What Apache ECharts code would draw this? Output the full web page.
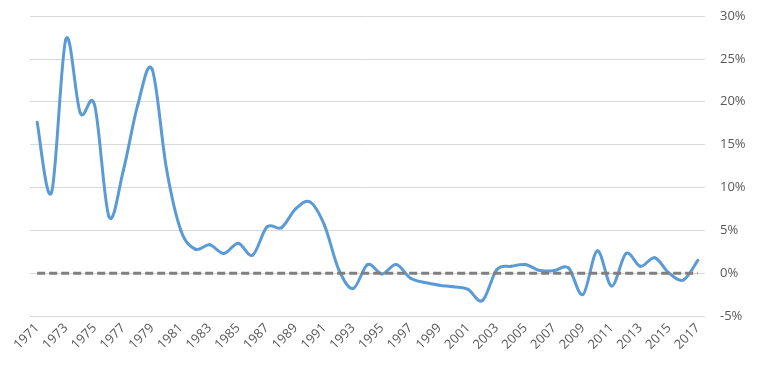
<!DOCTYPE html>
<html><head><meta charset="utf-8">
<script src="https://cdn.jsdelivr.net/npm/echarts@6/dist/echarts.min.js"></script>
<style>html,body{margin:0;padding:0;background:#fff}#c{width:762px;height:381px}</style>
</head><body><div id="c"></div>
<script>
var years = [];
for (var y = 1971; y <= 2017; y++) years.push(String(y));
var growth = [17.6, 9.4, 27.3, 18.7, 19.6, 6.6, 12.0, 19.6, 23.8, 12.2, 5.0, 2.8, 3.3, 2.3, 3.5,
  2.1, 5.4, 5.3, 7.5, 8.3, 5.6, 0.4, -1.8, 1.0, -0.1, 1.0, -0.6, -1.1, -1.4, -1.6, -1.9, -3.2,
  0.4, 0.8, 1.0, 0.3, 0.3, 0.6, -2.5, 2.6, -1.5, 2.3, 0.8, 1.8, 0.0, -0.8, 1.5];
var zeroLine = years.map(function(){ return 0; });
var yMin = -5, yMax = 30, yStep = 5;

var chart = echarts.init(document.getElementById('c'));

function renderSmooth(params, api) {
  var i = params.dataIndex;
  var n = growth.length;
  if (i >= n - 1) return null;
  function pt(k) {
    k = Math.max(0, Math.min(n - 1, k));
    return api.coord([k, growth[k]]);
  }
  var p0 = pt(i - 1), p1 = pt(i), p2 = pt(i + 1), p3 = pt(i + 2);
  var t = 1 / 6;
  return {
    type: 'bezierCurve',
    shape: {
      x1: p1[0], y1: p1[1],
      cpx1: p1[0] + (p2[0] - p0[0]) * t, cpy1: p1[1] + (p2[1] - p0[1]) * t,
      cpx2: p2[0] - (p3[0] - p1[0]) * t, cpy2: p2[1] - (p3[1] - p1[1]) * t,
      x2: p2[0], y2: p2[1]
    },
    style: {stroke: '#5B9BD5', lineWidth: 3, fill: null, lineCap: 'round', lineJoin: 'round'}
  };
}

chart.setOption({
  animation: false,
  grid: {left: 30, right: 57, top: 16, bottom: 65, containLabel: false},
  xAxis: {
    type: 'category', data: years, boundaryGap: true,
    axisLine: {show: false}, axisTick: {show: false},
    axisLabel: {interval: 1, rotate: 45, margin: 10, color: '#595959', fontSize: 13, fontFamily: 'Open Sans'}
  },
  yAxis: {
    type: 'value', position: 'right', min: yMin, max: yMax, interval: yStep,
    axisLine: {show: false}, axisTick: {show: false},
    axisLabel: {formatter: '{value}%', margin: 15, color: '#595959', fontSize: 13, fontFamily: 'Open Sans'},
    splitLine: {lineStyle: {color: '#d9d9d9', width: 1}}
  },
  series: [
    {type: 'custom', data: growth.map(function(v, k){ return [k, v]; }),
     encode: {x: 0, y: 1}, renderItem: renderSmooth, clip: false},
    {type: 'line', data: zeroLine, symbol: 'none',
     lineStyle: {color: '#7F7F7F', width: 3, type: [8, 4]}}
  ]
});
</script></body></html>
